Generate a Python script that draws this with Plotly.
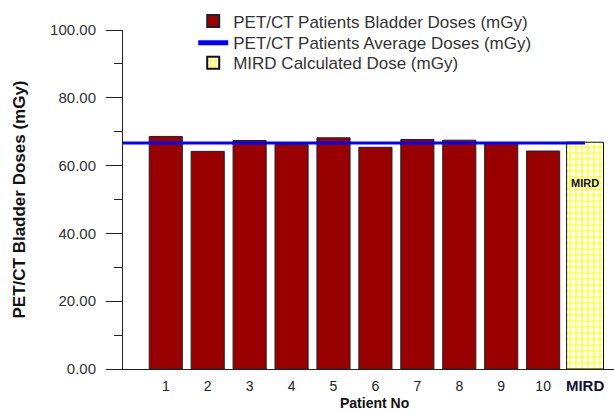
import plotly.graph_objects as go

# ---- data ----
patient_labels = ["1", "2", "3", "4", "5", "6", "7", "8", "9", "10"]
patient_doses = [68.6, 64.2, 67.4, 66.2, 68.2, 65.4, 67.7, 67.5, 66.7, 64.3]
average_dose = 66.7
mird_label = "MIRD"
mird_dose = 66.9
y_ticks = [0, 20, 40, 60, 80, 100]

# ---- positions ----
patient_pos = list(range(1, len(patient_labels) + 1))
mird_pos = len(patient_labels) + 1
x_range = [-0.02, 11.69]

FONT = "Liberation Sans, Arial, sans-serif"
TXT = "#333333"

fig = go.Figure()

fig.add_trace(go.Bar(
    x=patient_pos, y=patient_doses, width=0.79,
    name="PET/CT Patients Bladder Doses (mGy)", legend="legend",
    marker=dict(color="#990000", line=dict(color="#222222", width=1)),
))

fig.add_trace(go.Bar(
    x=[mird_pos], y=[mird_dose], width=0.88,
    name="MIRD Calculated Dose (mGy)", legend="legend3",
    marker=dict(color="#FFFF00", line=dict(color="#111111", width=1),
                pattern=dict(shape="+", fgcolor="#FFFF00", bgcolor="#FFFFFF",
                             size=6, solidity=0.35, fillmode="replace")),
))

fig.add_trace(go.Scatter(
    x=[x_range[0], mird_pos], y=[average_dose, average_dose],
    mode="lines", name="PET/CT Patients Average Doses (mGy)", legend="legend2",
    line=dict(color="#0000FF", width=3),
))

fig.add_annotation(x=mird_pos, y=55.0, text="<b>MIRD</b>", showarrow=False,
                   font=dict(family=FONT, size=11, color="#111111"))

fig.add_annotation(xref="paper", yref="paper", x=0.512, y=-0.099,
                   xanchor="center", yanchor="middle", showarrow=False,
                   text="<b>Patient No</b>",
                   font=dict(family=FONT, size=14, color="#111111"))

leg_common = dict(x=0.143, xanchor="left", yanchor="middle",
                  bgcolor="rgba(0,0,0,0)", font=dict(size=17, color=TXT),
                  itemsizing="constant")

fig.update_layout(
    width=614, height=412,
    margin=dict(l=122.5, r=0, t=30, b=42.5, autoexpand=False),
    paper_bgcolor="white", plot_bgcolor="white",
    barmode="overlay",
    font=dict(family=FONT, size=14, color=TXT),
    showlegend=True,
    legend=dict(y=1.025, **leg_common),
    legend2=dict(y=0.961, **leg_common),
    legend3=dict(y=0.902, **leg_common),
    xaxis=dict(
        range=x_range, tickmode="array", automargin=False,
        tickvals=patient_pos + [mird_pos],
        ticktext=patient_labels +
                 ["<span style='font-size:15px;color:#111133'><b>%s</b></span>" % mird_label],
        ticks="", showline=True, linecolor="#222222", linewidth=1,
        showgrid=False, zeroline=False,
        tickfont=dict(size=14, color="#222222"),
        ticklabelstandoff=4,
    ),
    yaxis=dict(
        range=[0, 100], tickmode="array", tickvals=y_ticks, automargin=False,
        tickformat=".2f",
        ticks="outside", ticklen=16, tickcolor="#222222", tickwidth=1,
        minor=dict(dtick=10, ticks="outside", ticklen=8, tickcolor="#222222", tickwidth=1),
        showline=True, linecolor="#222222", linewidth=1,
        showgrid=False, zeroline=False,
        tickfont=dict(size=15, color=TXT),
        ticklabelstandoff=7,
        title=dict(text="<b>PET/CT Bladder Doses (mGy)</b>", font=dict(size=17, color="#111111"), standoff=20),
    ),
)

fig.write_html("out.html", config={"displayModeBar": False},
               post_script="document.body.style.margin='0';")
